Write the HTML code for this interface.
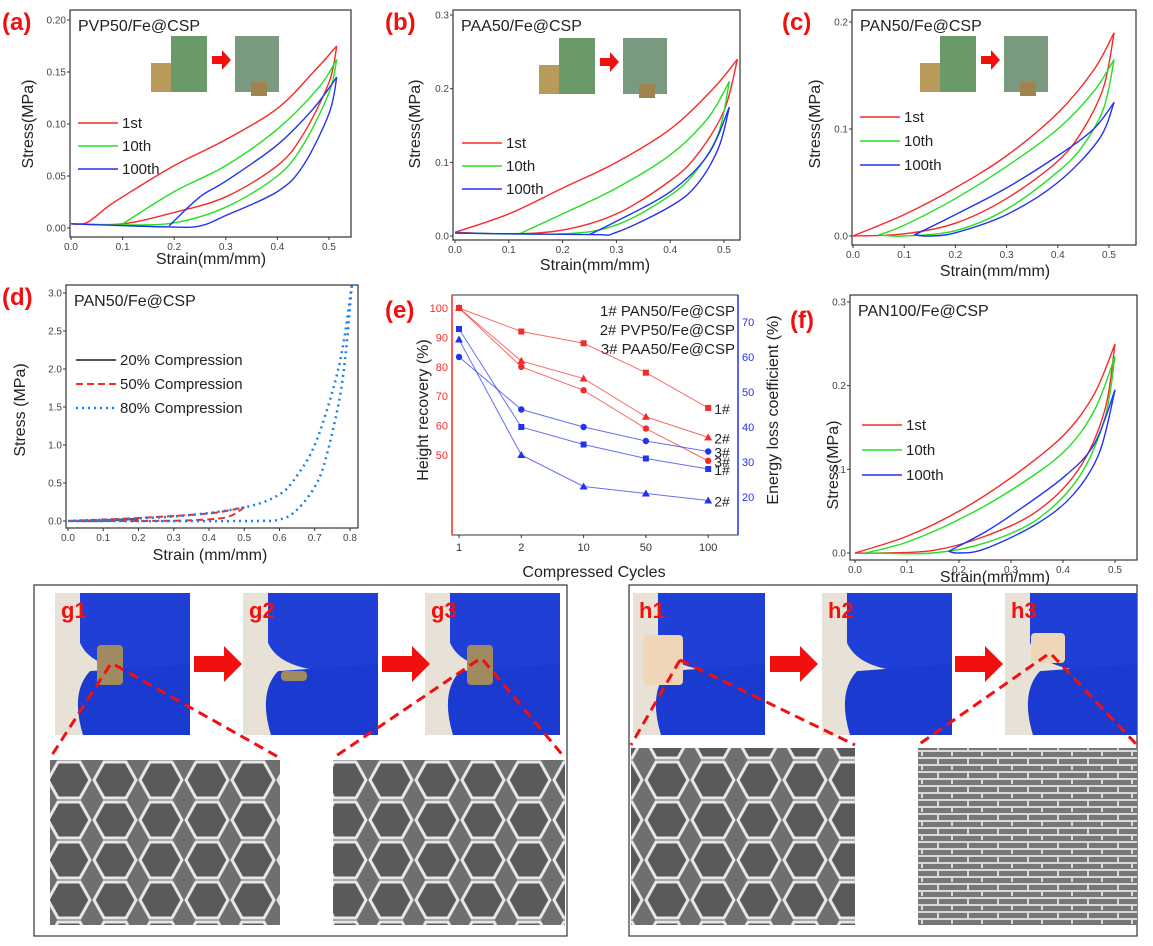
<!DOCTYPE html>
<html><head><meta charset="utf-8"><style>
html,body{margin:0;padding:0;background:#fff;}
svg{display:block;font-family:"Liberation Sans",sans-serif;}
</style></head><body>
<svg id="fig" width="1153" height="946" viewBox="0 0 1153 946" xmlns="http://www.w3.org/2000/svg">
<defs>
<pattern id="cells" width="46" height="40" patternUnits="userSpaceOnUse">
<rect width="46" height="40" fill="#6f6f6f"/>
<path d="M12 2 L34 2 L44 20 L34 38 L12 38 L2 20 Z" fill="#5a5a5a" stroke="#e6e6e6" stroke-width="3"/>
</pattern>
<pattern id="layers" width="30" height="14" patternUnits="userSpaceOnUse">
<rect width="30" height="14" fill="#777"/>
<path d="M0 2 H30 M0 9 H30 M8 2 V9 M22 9 V14" stroke="#d8d8d8" stroke-width="2"/>
</pattern>
</defs>
</svg>
<script>
// ---------- data ----------
const aCycles=["1st","10th","100th"];
const aLoad1=[[0,0.004],[0.03,0.005],[0.07,0.02],[0.1,0.03],[0.2,0.06],[0.3,0.085],[0.4,0.115],[0.47,0.15],[0.515,0.175]];
const aUnload1=[[0.515,0.175],[0.5,0.14],[0.45,0.09],[0.4,0.06],[0.3,0.03],[0.2,0.015],[0.1,0.004],[0,0.004]];
const aLoad10=[[0.1,0.004],[0.2,0.035],[0.3,0.06],[0.4,0.095],[0.48,0.135],[0.515,0.162]];
const aUnload10=[[0.515,0.162],[0.5,0.13],[0.45,0.08],[0.4,0.05],[0.3,0.02],[0.2,0.005],[0.1,0.003],[0,0.004]];
const aLoad100=[[0.19,0.002],[0.25,0.03],[0.3,0.045],[0.4,0.08],[0.47,0.115],[0.515,0.145]];
const aUnload100=[[0.515,0.145],[0.5,0.11],[0.45,0.06],[0.4,0.035],[0.3,0.012],[0.25,0.002],[0.19,0.001],[0,0.004]];
const bLoad1=[[0,0.005],[0.1,0.03],[0.2,0.065],[0.3,0.1],[0.4,0.145],[0.48,0.2],[0.525,0.24]];
const bUnload1=[[0.525,0.24],[0.5,0.17],[0.45,0.11],[0.4,0.075],[0.3,0.03],[0.2,0.008],[0.1,0.003],[0,0.005]];
const bLoad10=[[0.12,0.003],[0.2,0.03],[0.3,0.065],[0.4,0.11],[0.47,0.16],[0.51,0.21]];
const bUnload10=[[0.51,0.21],[0.49,0.14],[0.45,0.09],[0.4,0.055],[0.3,0.015],[0.2,0.003],[0,0.004]];
const bLoad100=[[0.25,0.002],[0.3,0.02],[0.4,0.06],[0.47,0.11],[0.51,0.175]];
const bUnload100=[[0.51,0.175],[0.49,0.12],[0.45,0.07],[0.4,0.04],[0.3,0.005],[0.25,0.002],[0,0.004]];
const cLoad1=[[0,0],[0.1,0.02],[0.2,0.045],[0.3,0.075],[0.4,0.115],[0.47,0.155],[0.51,0.19]];
const cUnload1=[[0.51,0.19],[0.49,0.14],[0.45,0.1],[0.4,0.07],[0.3,0.035],[0.2,0.012],[0.1,0.002],[0,0]];
const cLoad10=[[0.05,0.001],[0.1,0.01],[0.2,0.035],[0.3,0.065],[0.4,0.1],[0.47,0.135],[0.51,0.165]];
const cUnload10=[[0.51,0.165],[0.49,0.12],[0.45,0.085],[0.4,0.06],[0.3,0.025],[0.2,0.005],[0.1,0],[0.05,0.001]];
const cLoad100=[[0.12,0.001],[0.2,0.02],[0.3,0.045],[0.4,0.075],[0.47,0.1],[0.51,0.125]];
const cUnload100=[[0.51,0.125],[0.48,0.09],[0.4,0.05],[0.3,0.02],[0.2,0.003],[0.15,0],[0.12,0.001]];
const dLoad20=[[0,0],[0.1,0.01],[0.2,0.03]];
const dUnload20=[[0.2,0.03],[0.1,0.0],[0,0]];
const dLoad50=[[0,0],[0.2,0.04],[0.4,0.1],[0.5,0.18]];
const dUnload50=[[0.5,0.18],[0.45,0.05],[0.35,0.01],[0.2,0],[0,0]];
const dLoad80=[[0,0],[0.3,0.06],[0.5,0.18],[0.6,0.35],[0.65,0.6],[0.7,1.0],[0.75,1.7],[0.78,2.3],[0.805,3.1]];
const dUnload80=[[0.805,3.1],[0.79,2.3],[0.77,1.6],[0.73,0.8],[0.7,0.45],[0.65,0.15],[0.6,0.02],[0.5,0],[0,0]];
const fLoad1=[[0,0],[0.1,0.02],[0.2,0.05],[0.3,0.09],[0.4,0.14],[0.46,0.19],[0.5,0.25]];
const fUnload1=[[0.5,0.25],[0.48,0.17],[0.43,0.1],[0.35,0.05],[0.25,0.02],[0.15,0.003],[0.05,0],[0,0]];
const fLoad10=[[0.02,0],[0.1,0.013],[0.2,0.04],[0.3,0.075],[0.4,0.12],[0.46,0.17],[0.5,0.235]];
const fUnload10=[[0.5,0.235],[0.48,0.16],[0.43,0.09],[0.35,0.04],[0.25,0.012],[0.15,0],[0.02,0]];
const fLoad100=[[0.18,0.002],[0.25,0.025],[0.3,0.045],[0.4,0.09],[0.46,0.13],[0.5,0.195]];
const fUnload100=[[0.5,0.195],[0.47,0.12],[0.42,0.07],[0.35,0.035],[0.25,0.005],[0.2,0],[0.18,0.002]];
const eCategories=["1","2","10","50","100"];
const eHeight1=[100,92,88,78,66];
const eHeight2=[100,82,76,63,56];
const eHeight3=[100,80,72,59,48];
const eLoss1=[68,40,35,31,28];
const eLoss2=[65,32,23,21,19];
const eLoss3=[60,45,40,36,33];
const eLeftTicks=[50,60,70,80,90,100];
const eRightTicks=[20,30,40,50,60,70];

const NS="http://www.w3.org/2000/svg";
const svg=document.getElementById('fig');
function mk(tag,attrs,parent,text){const e=document.createElementNS(NS,tag);for(const k in attrs)e.setAttribute(k,attrs[k]);if(text!==undefined)e.textContent=text;(parent||svg).appendChild(e);return e;}
function lin(d0,d1,r0,r1){return v=>r0+(v-d0)*(r1-r0)/(d1-d0);}
function smooth(P){
  let d='M'+P[0][0]+' '+P[0][1];
  for(let i=0;i<P.length-1;i++){
    const p0=P[i-1]||P[i],p1=P[i],p2=P[i+1],p3=P[i+2]||P[i+1];
    const c1=[p1[0]+(p2[0]-p0[0])/6,p1[1]+(p2[1]-p0[1])/6];
    const c2=[p2[0]-(p3[0]-p1[0])/6,p2[1]-(p3[1]-p1[1])/6];
    d+=` C${c1[0]} ${c1[1]} ${c2[0]} ${c2[1]} ${p2[0]} ${p2[1]}`;
  }
  return d;
}

function panel(o){
  const g=mk('g',{});
  
  
  const X=lin(o.x0,o.x1,o.px0,o.px1), Y=lin(o.y0,o.y1,o.py0,o.py1);
  const box=mk('rect',{x:o.bx,y:o.by,width:o.bw,height:o.bh,fill:'none',stroke:'#333','stroke-width':1.2},g);
  
  
  o.xt.forEach(v=>{
    const t=mk('text',{x:X(v),y:o.by+o.bh+13,'font-size':10,fill:'#444','text-anchor':'middle'},g,v.toFixed(o.xd));
    
    
    mk('line',{x1:X(v),x2:X(v),y1:o.by+o.bh,y2:o.by+o.bh+3,stroke:'#333'},g);
  });
  o.yt.forEach(v=>{
    const t=mk('text',{x:o.bx-4,y:Y(v)+3.5,'font-size':10,fill:'#444','text-anchor':'end'},g,v.toFixed(o.yd));
    
    
    mk('line',{x1:o.bx-3,x2:o.bx,y1:Y(v),y2:Y(v),stroke:'#333'},g);
  });
  const xl=mk('text',{x:o.xlx,y:o.xly,'font-size':16,fill:'#222','text-anchor':'middle'},g,o.xlabel);
  
  
  const yl=mk('text',{x:0,y:0,'font-size':16,fill:'#222','text-anchor':'middle',transform:`translate(${o.ylx},${o.yly}) rotate(-90)`},g,o.ylabel);
  
  
  const ti=mk('text',{x:o.bx+8,y:o.by+21,'font-size':16,fill:'#222'},g,o.title);
  
  
  const lt=mk('text',{x:o.lx,y:o.ly,'font-size':24,'font-weight':'bold',fill:'#f01010'},g,o.letter);
  
  
  o.series.forEach(s=>{
    const p=mk('path',{d:smooth(s.pts.map(q=>[X(q[0]),Y(q[1])])),fill:'none',stroke:s.c,'stroke-width':s.w||1.4,'stroke-dasharray':s.dash||'none'},g);
    
    
  });
  o.legend.forEach((L,i)=>{
    const yy=o.legy+i*o.legdy;
    const l=mk('line',{x1:o.legx,x2:o.legx+40,y1:yy,y2:yy,stroke:L.c,'stroke-width':L.w||1.6,'stroke-dasharray':L.dash||'none'},g);
    
    
    const t=mk('text',{x:o.legx+44,y:yy+5,'font-size':15,fill:'#222'},g,L.t);
    
    
  });
  return g;
}
const R='#f52a2a',G='#22e022',B='#2233ee';
function cyc(l1,u1,l10,u10,l100,u100){return [
 {pts:l1,c:R,name:'load-1st'},{pts:u1,c:R,name:'unload-1st'},
 {pts:l10,c:G,name:'load-10th'},{pts:u10,c:G,name:'unload-10th'},
 {pts:l100,c:B,name:'load-100th'},{pts:u100,c:B,name:'unload-100th'}];}
const legC=[{t:aCycles[0],c:R},{t:aCycles[1],c:G},{t:aCycles[2],c:B}];

function inset(x,y,name){
  const g=mk('g',{});
  
  
  mk('rect',{x:x,y:y+27,width:20,height:29,fill:'#b89a5a'},g);
  mk('rect',{x:x+20,y:y,width:36,height:56,fill:'#6a9a6a'},g);
  mk('polygon',{points:`${x+61},${y+20} ${x+71},${y+20} ${x+71},${y+14} ${x+80},${y+24} ${x+71},${y+34} ${x+71},${y+28} ${x+61},${y+28}`,fill:'#f01010'},g);
  mk('rect',{x:x+84,y:y,width:44,height:56,fill:'#7a9a80'},g);
  mk('rect',{x:x+100,y:y+46,width:16,height:14,fill:'#a08450'},g);
}

panel({name:'panel-a',letter:'(a)',lx:2,ly:30,title:'PVP50/Fe@CSP',bx:70,by:10,bw:281,bh:227,x0:0,x1:0.5,px0:71,px1:329,y0:0,y1:0.2,py0:228,py1:20,
 xt:[0,0.1,0.2,0.3,0.4,0.5],xd:1,yt:[0,0.05,0.1,0.15,0.2],yd:2,xlabel:'Strain(mm/mm)',xlx:211,xly:264,ylabel:'Stress(MPa)',ylx:33,yly:124,
 series:cyc(aLoad1,aUnload1,aLoad10,aUnload10,aLoad100,aUnload100),legend:legC,legx:78,legy:123,legdy:23});
inset(151,36,'inset-photo-a');
panel({name:'panel-b',letter:'(b)',lx:385,ly:30,title:'PAA50/Fe@CSP',bx:453,by:10,bw:287,bh:230,x0:0,x1:0.5,px0:455,px1:724,y0:0,y1:0.3,py0:236,py1:15,
 xt:[0,0.1,0.2,0.3,0.4,0.5],xd:1,yt:[0,0.1,0.2,0.3],yd:1,xlabel:'Strain(mm/mm)',xlx:595,xly:270,ylabel:'Stress(MPa)',ylx:420,yly:124,
 series:cyc(bLoad1,bUnload1,bLoad10,bUnload10,bLoad100,bUnload100),legend:legC,legx:462,legy:143,legdy:23});
inset(539,38,'inset-photo-b');
panel({name:'panel-c',letter:'(c)',lx:782,ly:30,title:'PAN50/Fe@CSP',bx:852,by:10,bw:284,bh:235,x0:0,x1:0.5,px0:853,px1:1109,y0:0,y1:0.2,py0:236,py1:22,
 xt:[0,0.1,0.2,0.3,0.4,0.5],xd:1,yt:[0,0.1,0.2],yd:1,xlabel:'Strain(mm/mm)',xlx:995,xly:276,ylabel:'Stress(MPa)',ylx:820,yly:124,
 series:cyc(cLoad1,cUnload1,cLoad10,cUnload10,cLoad100,cUnload100),legend:legC,legx:860,legy:117,legdy:24});
inset(920,36,'inset-photo-c');
panel({name:'panel-d',letter:'(d)',lx:2,ly:305,title:'PAN50/Fe@CSP',bx:66,by:285,bw:292,bh:243,x0:0,x1:0.8,px0:68,px1:350,y0:0,y1:3,py0:521,py1:293,
 xt:[0,0.1,0.2,0.3,0.4,0.5,0.6,0.7,0.8],xd:1,yt:[0,0.5,1,1.5,2,2.5,3],yd:1,xlabel:'Strain (mm/mm)',xlx:210,xly:560,ylabel:'Stress (MPa)',ylx:25,yly:410,
 series:[{pts:dLoad20,c:'#555',name:'load-20pct',w:2},{pts:dUnload20,c:'#555',name:'unload-20pct',w:2},
  {pts:dLoad50,c:R,name:'load-50pct',w:2,dash:'7 4'},{pts:dUnload50,c:R,name:'unload-50pct',w:2,dash:'7 4'},
  {pts:dLoad80,c:'#1a80ee',name:'load-80pct',w:2.5,dash:'2 4'},{pts:dUnload80,c:'#1a80ee',name:'unload-80pct',w:2.5,dash:'2 4'}],
 legend:[{t:'20% Compression',c:'#555',w:2},{t:'50% Compression',c:R,w:2,dash:'7 4'},{t:'80% Compression',c:'#1a80ee',w:2.5,dash:'2 4'}],legx:76,legy:360,legdy:24});
panel({name:'panel-f',letter:'(f)',lx:790,ly:328,title:'PAN100/Fe@CSP',bx:850,by:295,bw:287,bh:265,x0:0,x1:0.5,px0:855,px1:1115,y0:0,y1:0.3,py0:553,py1:302,
 xt:[0,0.1,0.2,0.3,0.4,0.5],xd:1,yt:[0,0.1,0.2,0.3],yd:1,xlabel:'Strain(mm/mm)',xlx:995,xly:582,ylabel:'Stress(MPa)',ylx:838,yly:465,
 series:cyc(fLoad1,fUnload1,fLoad10,fUnload10,fLoad100,fUnload100),legend:legC,legx:862,legy:425,legdy:25});

// ---------- panel e ----------
(function(){
  const g=mk('g',{});
  
  
  const bx=452,by=295,bw=286,bh=240;
  const Xc=i=>459+i*62.3;
  const YL=lin(50,100,455,308), YR=lin(20,70,497,322);
  const fr=mk('rect',{x:bx,y:by,width:bw,height:bh,fill:'none',stroke:'#333'},g);
  
  
  mk('line',{x1:bx,x2:bx,y1:by,y2:by+bh,stroke:R,'stroke-width':1.5},g);
  mk('line',{x1:bx+bw,x2:bx+bw,y1:by,y2:by+bh,stroke:B,'stroke-width':1.5},g);
  eCategories.forEach((c,i)=>{
    const t=mk('text',{x:Xc(i),y:by+bh+16,'font-size':11,fill:'#333','text-anchor':'middle'},g,c);
    
    
    mk('line',{x1:Xc(i),x2:Xc(i),y1:by+bh,y2:by+bh+3,stroke:'#333'},g);
  });
  eLeftTicks.forEach(v=>{
    const t=mk('text',{x:bx-4,y:YL(v)+4,'font-size':11,fill:R,'text-anchor':'end'},g,v);
    
    
  });
  eRightTicks.forEach(v=>{
    const t=mk('text',{x:bx+bw+4,y:YR(v)+4,'font-size':11,fill:B},g,v);
    
    
  });
  const xt=mk('text',{x:594,y:577,'font-size':16,fill:'#222','text-anchor':'middle'},g,'Compressed Cycles');
  
  
  const yl=mk('text',{x:0,y:0,'font-size':16,fill:'#222','text-anchor':'middle',transform:'translate(428,410) rotate(-90)'},g,'Height recovery (%)');
  
  
  const yr=mk('text',{x:0,y:0,'font-size':16,fill:'#222','text-anchor':'middle',transform:'translate(778,410) rotate(-90)'},g,'Energy loss coefficient (%)');
  
  
  const lt=mk('text',{x:385,y:318,'font-size':24,'font-weight':'bold',fill:'#f01010'},g,'(e)');
  
  
  ['1# PAN50/Fe@CSP','2# PVP50/Fe@CSP','3# PAA50/Fe@CSP'].forEach((s,i)=>{
    const t=mk('text',{x:735,y:316+i*19,'font-size':15,fill:'#222','text-anchor':'end'},g,s);
    
    
  });
  function marker(x,y,shape,c){
    if(shape==='s')return mk('rect',{x:x-3,y:y-3,width:6,height:6,fill:c},g);
    if(shape==='t')return mk('polygon',{points:`${x},${y-4} ${x+4},${y+3} ${x-4},${y+3}`,fill:c},g);
    return mk('circle',{cx:x,cy:y,r:3.2,fill:c},g);
  }
  function ser(vals,Y,c,shape,name,lab){
    const p=mk('polyline',{points:vals.map((v,i)=>Xc(i)+','+Y(v)).join(' '),fill:'none',stroke:c,'stroke-width':1,opacity:0.7},g);
    
    
    vals.forEach((v,i)=>{
      const m=marker(Xc(i),Y(v),shape,c);
      
      
    });
    const t=mk('text',{x:Xc(4)+6,y:Y(vals[4])+6,'font-size':14,fill:'#222'},g,lab);
    
    
  }
  ser(eHeight1,YL,R,'s','height-1','1#');
  ser(eHeight2,YL,R,'t','height-2','2#');
  ser(eHeight3,YL,R,'c','height-3','3#');
  ser(eLoss1,YR,B,'s','loss-1','1#');
  ser(eLoss2,YR,B,'t','loss-2','2#');
  ser(eLoss3,YR,B,'c','loss-3','3#');
})();

// ---------- bottom photos ----------
function photo(x,y,w,h,lab,sample,name){
  const g=mk('g',{});
  
  
  mk('rect',{x:x,y:y,width:w,height:h,fill:'#e8e2d6'},g);
  mk('path',{d:`M${x+25} ${y} H${x+w} V${y+h*0.55} Q${x+40} ${y+h*0.6} ${x+25} ${y+h*0.35} Z`,fill:'#1f3fd6'},g);
  mk('path',{d:`M${x+w} ${y+h*0.5} V${y+h} H${x+28} Q${x+15} ${y+h*0.7} ${x+35} ${y+h*0.55} Z`,fill:'#1a3ad0'},g);
  if(sample) mk('rect',{x:x+sample[0],y:y+sample[1],width:sample[2],height:sample[3],fill:sample[4],rx:4},g);
  const t=mk('text',{x:x+6,y:y+25,'font-size':22,'font-weight':'bold',fill:'#f01010'},g,lab);
  
  
}
function arrow(x,y,name){
  const a=mk('polygon',{points:`${x},${y-8} ${x+30},${y-8} ${x+30},${y-18} ${x+48},${y} ${x+30},${y+18} ${x+30},${y+8} ${x},${y+8}`,fill:'#f01010'});
  
  
}
function dash(x1,y1,x2,y2){const l=mk('line',{x1,y1,x2,y2,stroke:'#f01010','stroke-width':3,'stroke-dasharray':'10 6'});}
function sem(x,y,w,h,pat,name){const r=mk('rect',{x,y,width:w,height:h,fill:`url(#${pat})`});}

const gb=mk('rect',{x:34,y:585,width:533,height:351,fill:'none',stroke:'#333','stroke-width':1.2});


const hb=mk('rect',{x:629,y:585,width:508,height:351,fill:'none',stroke:'#333','stroke-width':1.2});



photo(55,593,135,142,'g1',[42,52,26,40,'#a08a60'],'photo-g1');
photo(243,593,135,142,'g2',[38,78,26,10,'#a08a60'],'photo-g2');
photo(425,593,135,142,'g3',[42,52,26,40,'#a08a60'],'photo-g3');
photo(633,593,132,142,'h1',[10,42,40,50,'#efd6b8'],'photo-h1');
photo(822,593,130,142,'h2',null,'photo-h2');
photo(1005,593,132,142,'h3',[26,40,34,30,'#efd6b8'],'photo-h3');
arrow(194,664,'arrow-g1-g2');arrow(382,664,'arrow-g2-g3');
arrow(770,664,'arrow-h1-h2');arrow(955,664,'arrow-h2-h3');
sem(50,760,230,165,'cells','sem-g1');
sem(333,760,232,165,'cells','sem-g3');
sem(631,748,224,177,'cells','sem-h1');
sem(918,748,219,177,'layers','sem-h3');
dash(110,665,50,758);dash(115,665,280,758);
dash(478,660,333,758);dash(483,660,565,758);
dash(680,660,631,745);dash(680,660,855,745);
dash(1047,655,918,745);dash(1052,655,1137,745);
</script>
</body></html>
